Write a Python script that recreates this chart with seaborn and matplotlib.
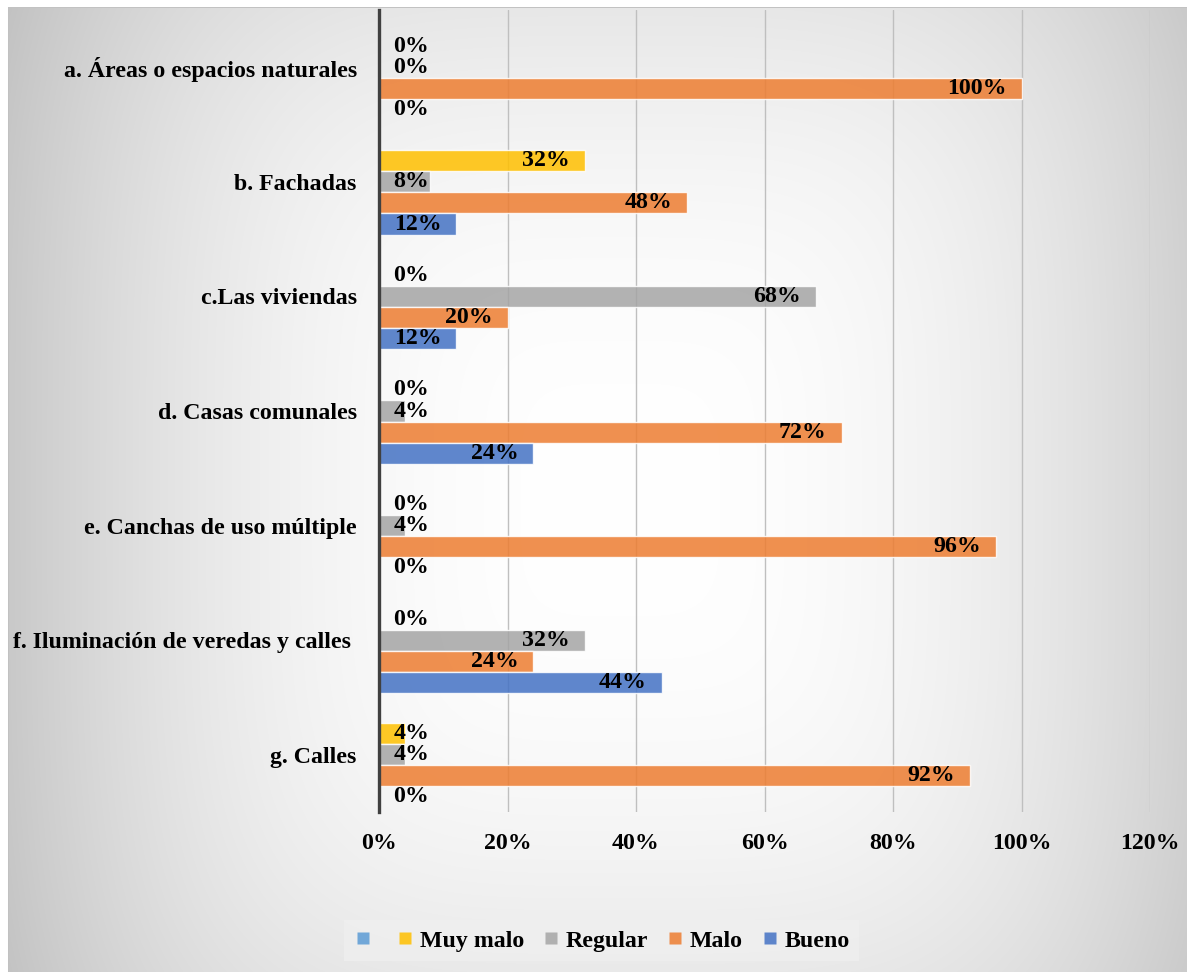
import numpy as np
import pandas as pd
import matplotlib.pyplot as plt
import seaborn as sns
from matplotlib.lines import Line2D

# datos
categorias = [
    "a. Áreas o espacios naturales",
    "b. Fachadas",
    "c.Las viviendas",
    "d. Casas comunales",
    "e. Canchas de uso múltiple",
    "f. Iluminación de veredas y calles ",
    "g. Calles",
]
series = ["", "Muy malo", "Regular", "Malo", "Bueno"]
vacio = [0, 0, 0, 0, 0, 0, 0]
muy_malo = [0, 32, 0, 0, 0, 0, 4]
regular = [0, 8, 68, 4, 4, 32, 4]
malo = [100, 48, 20, 72, 96, 24, 92]
bueno = [0, 12, 12, 24, 0, 44, 0]
colores = ["#5B9BD5", "#FFC000", "#A5A5A5", "#ED7D31", "#4472C4"]
ticks_x = [0, 20, 40, 60, 80, 100, 120]

df = pd.DataFrame({
    "categoria": categorias * len(series),
    "serie": np.repeat(series, len(categorias)),
    "valor": vacio + muy_malo + regular + malo + bueno,
})

sns.set_style("white")
plt.rcParams["font.family"] = ["Liberation Serif", "DejaVu Serif"]
plt.rcParams["font.weight"] = "bold"
plt.rcParams["text.color"] = "black"
plt.rcParams["xtick.color"] = "black"
plt.rcParams["ytick.color"] = "black"

FS = 17.2
W, H = 1187, 972
fig = plt.figure(figsize=(W / 100, H / 100), dpi=100)

# fondo con degradado desde el centro
yy, xx = np.mgrid[0:H, 0:W]
dx = (xx - 620) / 600.0
dy = (yy - 500) / 700.0
d = (dx ** 4 + dy ** 4) ** 0.25
g = 1.0 - (52 / 255.0) * np.clip(d, 0, 1.1) ** 2.2
img = np.dstack([g, g, g])
img[:8, :, :] = 1.0
img[:, :8, :] = 1.0
img[8, 8:, :] = 0.76
img[8:, 8, :] = 0.76
bg = fig.add_axes([0, 0, 1, 1], zorder=-10)
bg.imshow(img, aspect="auto", interpolation="bilinear")
bg.axis("off")

ax = fig.add_axes([379 / W, 1 - 812 / H, (1150 - 379) / W, (812 - 10) / H])
ax.patch.set_alpha(0)

sns.barplot(
    data=df, y="categoria", x="valor", hue="serie",
    order=categorias, hue_order=series, palette=colores,
    orient="h", width=0.92, saturation=1, alpha=0.85,
    edgecolor=(1, 1, 1, 0.5), linewidth=1, legend=False, ax=ax,
)

ax.set_xlim(0, 120)
ax.set_xticks(ticks_x)
ax.set_xticklabels([f"{t}%" for t in ticks_x], fontsize=FS, fontweight="bold")
ax.tick_params(axis="x", length=0, pad=15)
ax.tick_params(axis="y", length=0, pad=16, labelsize=FS)
for lab in ax.get_yticklabels():
    lab.set_fontweight("bold")
ax.set_xlabel("")
ax.set_ylabel("")
ax.grid(axis="x", color="#BFBFBF", linewidth=1)
ax.set_axisbelow(True)
for s in ["top", "right", "bottom"]:
    ax.spines[s].set_visible(False)
ax.spines["left"].set_color("#404040")
ax.spines["left"].set_linewidth(2.4)
ax.spines["left"].set_zorder(5)

# etiquetas de datos
valores = [vacio, muy_malo, regular, malo, bueno]
for i, cont in enumerate(ax.containers):
    if i == 0:
        continue
    for v, bar in zip(valores[i], cont.patches):
        yc = bar.get_y() + bar.get_height() / 2
        if v <= 8:
            ax.text(2.2, yc, f"{v}%", ha="left", va="center",
                    fontsize=FS, fontweight="bold", zorder=6)
        else:
            ax.text(v - 2.3, yc, f"{v}%", ha="right", va="center",
                    fontsize=FS, fontweight="bold", zorder=6)

handles = [Line2D([], [], marker="s", linestyle="", markersize=9,
                  markerfacecolor=c, markeredgecolor="none", alpha=0.85)
           for c in colores]
leg = fig.legend(handles, series, loc="center", bbox_to_anchor=(0.507, 0.032),
                 ncol=5, frameon=True, fancybox=False, edgecolor="none",
                 facecolor="#EFEFEF", framealpha=0.8,
                 prop={"size": FS, "weight": "bold"},
                 handlelength=0.8, handletextpad=0.2, columnspacing=0.75,
                 borderpad=0.4)

fig.savefig("out.png", dpi=100)
